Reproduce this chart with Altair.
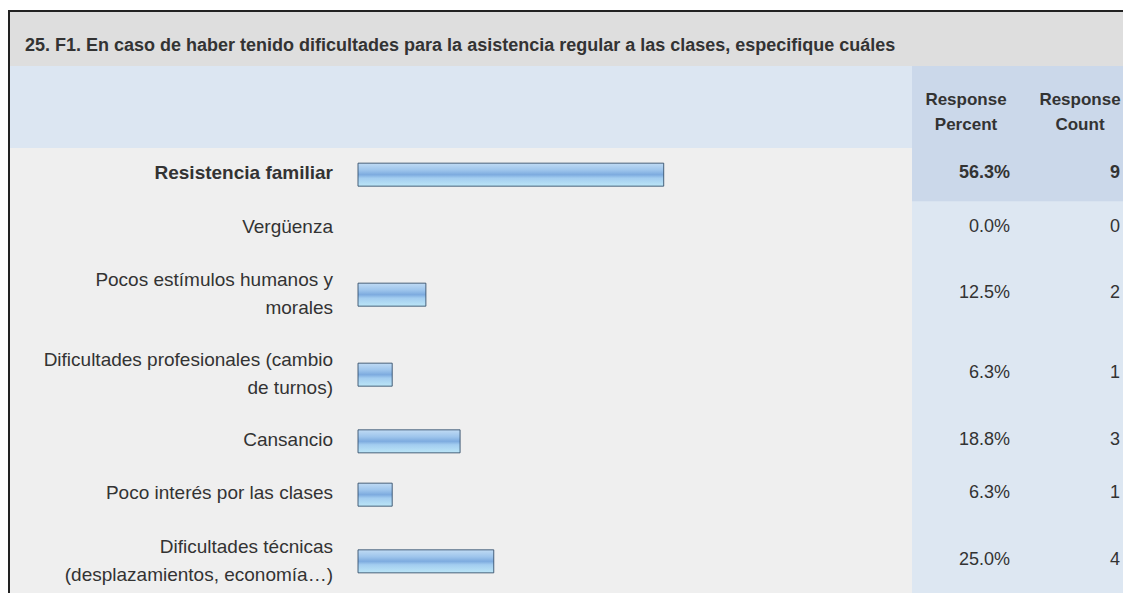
import altair as alt
import pandas as pd

# ---- data ----
title_text = "25. F1. En caso de haber tenido dificultades para la asistencia regular a las clases, especifique cuáles"
labels = [
    "Resistencia familiar",
    "Vergüenza",
    "Pocos estímulos humanos y\nmorales",
    "Dificultades profesionales (cambio\nde turnos)",
    "Cansancio",
    "Poco interés por las clases",
    "Dificultades técnicas\n(desplazamientos, economía…)",
]
percents = [56.3, 0.0, 12.5, 6.3, 18.8, 6.3, 25.0]
counts = [9, 0, 2, 1, 3, 1, 4]
header_labels = ["Response\nPercent", "Response\nCount"]

# ---- layout (style constants) ----
W, H = 1115, 585
FONT = "Liberation Sans"
TXT = "#333333"
HEADER_TOP, HEADER_BOTTOM = 58, 140
COL_X = 904
UNIT = 80 / 3
LH = 28
HDR_X = [958, 1072]

rows = []
t = HEADER_BOTTOM
for lab, p, c in zip(labels, percents, counts):
    n = lab.count("\n") + 1
    h = UNIT * (n + 1)
    rows.append({"label": lab, "pct": p, "count": c, "n": n,
                 "yc": t + h / 2, "ytop": t, "ybot": t + h})
    t += h
df = pd.DataFrame(rows)
df["is_max"] = df["count"] == df["count"].max()
df["zero"] = 0.0

one = pd.DataFrame({"k": [0]})
yscale = alt.Scale(domain=[0, H], range=[0, H], nice=False, zero=False, padding=0)
xscale = alt.Scale(domain=[0, 100], range=[350, 893], nice=False, padding=0)


def rect(fill, x, x2, y, y2):
    return alt.Chart(one).mark_rect(fill=fill).encode(
        x=alt.value(x), x2=alt.value(x2), y=alt.value(y), y2=alt.value(y2))


title_band = rect("#dedede", 2, W, 4, HEADER_TOP)
header_left = rect("#dce6f2", 2, COL_X, HEADER_TOP, HEADER_BOTTOM)
header_right = rect("#cbd8ea", COL_X, W, HEADER_TOP, HEADER_BOTTOM)
body_left = rect("#efefef", 2, COL_X, HEADER_BOTTOM, H)
body_right = rect("#dde7f2", COL_X, W, HEADER_BOTTOM, H)

base = alt.Chart(df)

highlight = base.transform_filter("datum.is_max").mark_rect(fill="#cbd8ea").encode(
    x=alt.value(COL_X), x2=alt.value(W),
    y=alt.Y("ytop:Q", scale=yscale, axis=None), y2="ybot:Q")

border_v = alt.Chart(one).mark_rule(color="#222222", strokeWidth=2).encode(
    x=alt.value(1), y=alt.value(2), y2=alt.value(H))
border_h = alt.Chart(one).mark_rule(color="#222222", strokeWidth=2).encode(
    x=alt.value(0), x2=alt.value(W), y=alt.value(3))

title = alt.Chart(pd.DataFrame({"t": [title_text]})).mark_text(
    align="left", baseline="alphabetic", font=FONT, fontSize=18,
    fontWeight="bold", color=TXT).encode(
    x=alt.value(17), y=alt.value(43), text="t:N")

hdrs = [
    alt.Chart(pd.DataFrame({"t": [lab]})).mark_text(
        align="center", baseline="middle", font=FONT, fontSize=17,
        fontWeight="bold", color=TXT, lineBreak="\n", lineHeight=25).encode(
        x=alt.value(px), y=alt.value(92), text="t:N")
    for lab, px in zip(header_labels, HDR_X)
]

grad = alt.LinearGradient(
    gradient="linear", x1=0, x2=0, y1=0, y2=1,
    stops=[alt.GradientStop(offset=0, color="#c0dbf4"),
           alt.GradientStop(offset=0.3, color="#9ec5ec"),
           alt.GradientStop(offset=0.5, color="#7dabdf"),
           alt.GradientStop(offset=0.65, color="#a3cdf0"),
           alt.GradientStop(offset=1, color="#bce6f7")])

bars = base.transform_filter("datum.pct > 0").mark_bar(
    fill=grad, stroke="#2f4a66", strokeWidth=1, strokeOpacity=0.85, size=23,
    orient="horizontal").encode(
    x=alt.X("zero:Q", scale=xscale, axis=None),
    x2=alt.X2("pct:Q"),
    y=alt.Y("yc:Q", scale=yscale, axis=None))


def row_text(bold, x, fmt, size, multiline=False):
    ch = base.transform_filter("datum.is_max" if bold else "!datum.is_max")
    shift = f" - (datum.n - 1) * {LH / 2 - 1}" if multiline else ""
    ch = ch.transform_calculate(txt=fmt, ty=f"datum.yc{shift} - 1.5")
    return ch.mark_text(
        align="right", baseline="middle", font=FONT, fontSize=size,
        fontWeight="bold" if bold else "normal", color=TXT,
        lineBreak="\n", lineHeight=LH).encode(
        x=alt.value(x),
        y=alt.Y("ty:Q", scale=yscale, axis=None),
        text="txt:N")


lab_fmt = "datum.label"
pct_fmt = "format(datum.pct, '.1f') + '%'"
cnt_fmt = "format(datum.count, 'd')"
layers = [
    title_band, header_left, header_right, body_left, body_right, highlight,
    border_v, border_h, title, *hdrs, bars,
    row_text(False, 325, lab_fmt, 19, True), row_text(True, 325, lab_fmt, 19, True),
    row_text(False, 1002, pct_fmt, 18), row_text(True, 1002, pct_fmt, 18),
    row_text(False, 1112, cnt_fmt, 18), row_text(True, 1112, cnt_fmt, 18),
]

chart = alt.layer(*layers).properties(
    width=W, height=H, padding=0, background="white",
    autosize=alt.AutoSizeParams(type="none"),
).configure_view(stroke=None)

chart.save("out.html", embed_options={"renderer": "svg", "actions": False})
